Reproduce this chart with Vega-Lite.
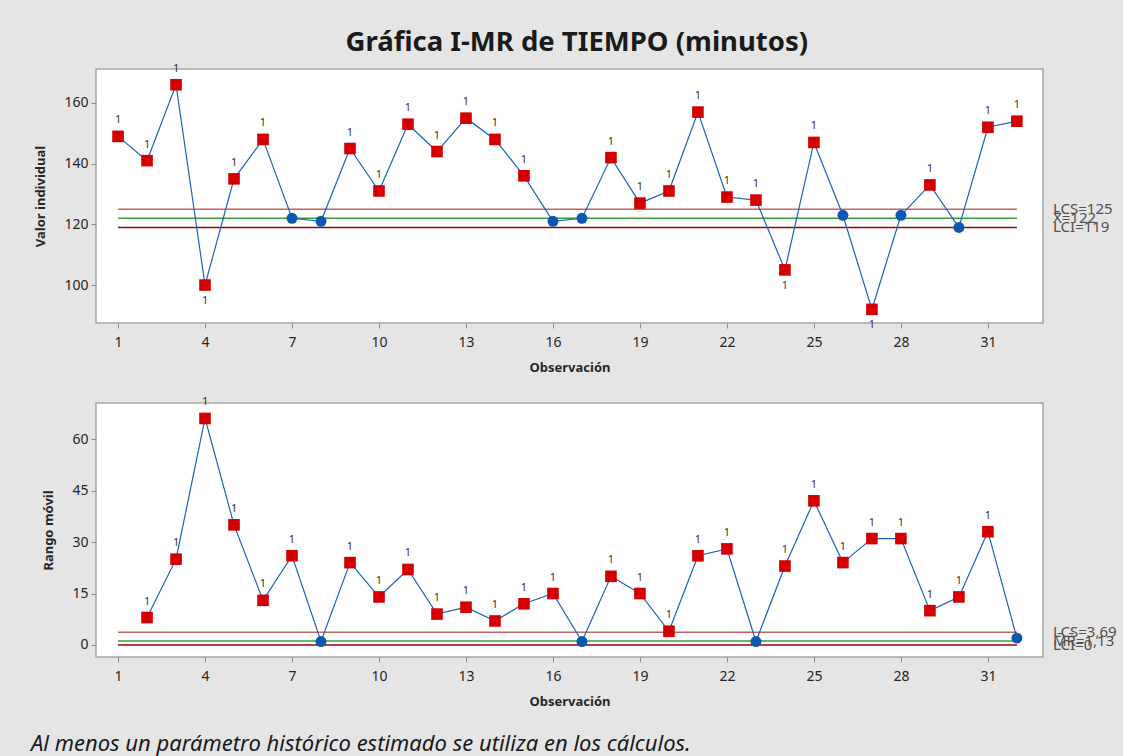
{
  "$schema": "https://vega.github.io/schema/vega-lite/v6.json",
  "background": "#e5e5e5",
  "padding": {"left": 30, "top": 28, "right": 5, "bottom": 5},
  "title": {"text": "Gráfica I-MR de TIEMPO (minutos)", "font": "Noto Sans", "fontSize": 27.5, "fontWeight": "bold", "color": "#1a1a1a", "anchor": "middle", "offset": 6, "dx": 3},
  "datasets": {
    "datos": [
      {"obs": 1, "valor": 149, "mr": null},
      {"obs": 2, "valor": 141, "mr": 8},
      {"obs": 3, "valor": 166, "mr": 25},
      {"obs": 4, "valor": 100, "mr": 66},
      {"obs": 5, "valor": 135, "mr": 35},
      {"obs": 6, "valor": 148, "mr": 13},
      {"obs": 7, "valor": 122, "mr": 26},
      {"obs": 8, "valor": 121, "mr": 1},
      {"obs": 9, "valor": 145, "mr": 24},
      {"obs": 10, "valor": 131, "mr": 14},
      {"obs": 11, "valor": 153, "mr": 22},
      {"obs": 12, "valor": 144, "mr": 9},
      {"obs": 13, "valor": 155, "mr": 11},
      {"obs": 14, "valor": 148, "mr": 7},
      {"obs": 15, "valor": 136, "mr": 12},
      {"obs": 16, "valor": 121, "mr": 15},
      {"obs": 17, "valor": 122, "mr": 1},
      {"obs": 18, "valor": 142, "mr": 20},
      {"obs": 19, "valor": 127, "mr": 15},
      {"obs": 20, "valor": 131, "mr": 4},
      {"obs": 21, "valor": 157, "mr": 26},
      {"obs": 22, "valor": 129, "mr": 28},
      {"obs": 23, "valor": 128, "mr": 1},
      {"obs": 24, "valor": 105, "mr": 23},
      {"obs": 25, "valor": 147, "mr": 42},
      {"obs": 26, "valor": 123, "mr": 24},
      {"obs": 27, "valor": 92, "mr": 31},
      {"obs": 28, "valor": 123, "mr": 31},
      {"obs": 29, "valor": 133, "mr": 10},
      {"obs": 30, "valor": 119, "mr": 14},
      {"obs": 31, "valor": 152, "mr": 33},
      {"obs": 32, "valor": 154, "mr": 2}
    ],
    "lim_i": [
      {"nombre": "LCS", "v": 125, "etiqueta": "LCS=125"},
      {"nombre": "C", "v": 122, "etiqueta": "X̄=122"},
      {"nombre": "LCI", "v": 119, "etiqueta": "LCI=119"}
    ],
    "lim_mr": [
      {"nombre": "LCS", "v": 3.69, "etiqueta": "LCS=3,69"},
      {"nombre": "C", "v": 1.13, "etiqueta": "M̄R̄=1,13"},
      {"nombre": "LCI", "v": 0, "etiqueta": "LCI=0"}
    ]
  },
  "config": {
    "view": {"fill": "white", "stroke": "#a6a6a6", "strokeWidth": 1.5},
    "font": "Noto Sans",
    "axis": {"grid": false, "domain": false, "tickColor": "#8c8c8c", "tickSize": 5, "labelFont": "Noto Sans", "labelFontSize": 14, "labelColor": "#262626", "titleFont": "Noto Sans", "titleFontSize": 13, "titleFontWeight": "bold", "titleColor": "#262626"},
    "axisX": {"titlePadding": 12, "labelPadding": 7},
    "axisY": {"titlePadding": 16, "labelPadding": 3}
  },
  "spacing": 20,
  "vconcat": [
    {
      "width": 947,
      "height": 254,
      "layer": [
        {
          "data": {"name": "lim_i"},
          "mark": {"type": "rule", "strokeWidth": 1.5},
          "encoding": {
            "x": {"datum": 1, "type": "quantitative", "scale": {"domain": [0.24, 32.9], "nice": false, "zero": false}, "axis": {"values": [1,4,7,10,13,16,19,22,25,28,31], "title": "Observación"}},
            "x2": {"datum": 32},
            "y": {"field": "v", "type": "quantitative", "scale": {"domain": [87.5, 171.2], "nice": false, "zero": false}, "axis": {"values": [100,120,140,160], "title": "Valor individual"}},
            "stroke": {"field": "nombre", "type": "nominal", "scale": {"domain": ["LCS", "C", "LCI"], "range": ["#c06464", "#3c9c3c", "#a00000"]}, "legend": null}
          }
        },
        {
          "data": {"name": "lim_i"},
          "mark": {"type": "text", "align": "left", "baseline": "middle", "dx": 10, "fontSize": 15, "color": "#505050"},
          "encoding": {
            "x": {"datum": 32.9, "type": "quantitative"},
            "y": {"field": "v", "type": "quantitative"},
            "text": {"field": "etiqueta"}
          }
        },
        {
          "data": {"name": "datos"},
          "mark": {"type": "line", "color": "#1a62c0", "strokeWidth": 1.2},
          "encoding": {
            "x": {"field": "obs", "type": "quantitative", "title": "Observación"},
            "y": {"field": "valor", "type": "quantitative", "title": "Valor individual"}
          }
        },
        {
          "data": {"name": "datos"},
          "transform": [{"filter": "datum.valor > 125 || datum.valor < 119"}],
          "mark": {"type": "point", "shape": "square", "filled": true, "size": 135, "color": "#d40000", "opacity": 1},
          "encoding": {
            "x": {"field": "obs", "type": "quantitative", "title": "Observación"},
            "y": {"field": "valor", "type": "quantitative", "title": "Valor individual"}
          }
        },
        {
          "data": {"name": "datos"},
          "transform": [{"filter": "datum.valor <= 125 && datum.valor >= 119"}],
          "mark": {"type": "point", "shape": "circle", "filled": true, "size": 120, "color": "#0a58b0", "opacity": 1},
          "encoding": {
            "x": {"field": "obs", "type": "quantitative", "title": "Observación"},
            "y": {"field": "valor", "type": "quantitative", "title": "Valor individual"}
          }
        },
        {
          "data": {"name": "datos"},
          "transform": [{"filter": "datum.valor > 125"}],
          "mark": {"type": "text", "dy": -16, "baseline": "middle", "fontSize": 11, "color": "#333333"},
          "encoding": {
            "x": {"field": "obs", "type": "quantitative"},
            "y": {"field": "valor", "type": "quantitative"},
            "text": {"value": "1"}
          }
        },
        {
          "data": {"name": "datos"},
          "transform": [{"filter": "datum.valor < 119"}],
          "mark": {"type": "text", "dy": 16, "baseline": "middle", "fontSize": 11, "color": "#333333"},
          "encoding": {
            "x": {"field": "obs", "type": "quantitative"},
            "y": {"field": "valor", "type": "quantitative"},
            "text": {"value": "1"}
          }
        }
      ]
    },
    {
      "width": 947,
      "height": 254,
      "title": {"text": "Al menos un parámetro histórico estimado se utiliza en los cálculos.", "orient": "bottom", "anchor": "start", "frame": "group", "dx": -65, "offset": 26, "font": "Noto Sans", "fontStyle": "italic", "fontSize": 22, "fontWeight": "normal", "color": "#1a1a1a"},
      "layer": [
        {
          "data": {"name": "lim_mr"},
          "mark": {"type": "rule", "strokeWidth": 1.5},
          "encoding": {
            "x": {"datum": 1, "type": "quantitative", "scale": {"domain": [0.24, 32.9], "nice": false, "zero": false}, "axis": {"values": [1,4,7,10,13,16,19,22,25,28,31], "title": "Observación"}},
            "x2": {"datum": 32},
            "y": {"field": "v", "type": "quantitative", "scale": {"domain": [-3.5, 70.5], "nice": false, "zero": false}, "axis": {"values": [0,15,30,45,60], "title": "Rango móvil"}},
            "stroke": {"field": "nombre", "type": "nominal", "scale": {"domain": ["LCS", "C", "LCI"], "range": ["#c06464", "#5cb85c", "#a00000"]}, "legend": null}
          }
        },
        {
          "data": {"name": "lim_mr"},
          "mark": {"type": "text", "align": "left", "baseline": "middle", "dx": 10, "fontSize": 15, "color": "#505050"},
          "encoding": {
            "x": {"datum": 32.9, "type": "quantitative"},
            "y": {"field": "v", "type": "quantitative"},
            "text": {"field": "etiqueta"}
          }
        },
        {
          "data": {"name": "datos"},
          "transform": [{"filter": "isValid(datum.mr)"}],
          "mark": {"type": "line", "color": "#1a62c0", "strokeWidth": 1.2},
          "encoding": {
            "x": {"field": "obs", "type": "quantitative", "title": "Observación"},
            "y": {"field": "mr", "type": "quantitative", "title": "Rango móvil"}
          }
        },
        {
          "data": {"name": "datos"},
          "transform": [{"filter": "isValid(datum.mr) && datum.mr > 3.69"}],
          "mark": {"type": "point", "shape": "square", "filled": true, "size": 135, "color": "#d40000", "opacity": 1},
          "encoding": {
            "x": {"field": "obs", "type": "quantitative", "title": "Observación"},
            "y": {"field": "mr", "type": "quantitative", "title": "Rango móvil"}
          }
        },
        {
          "data": {"name": "datos"},
          "transform": [{"filter": "isValid(datum.mr) && datum.mr <= 3.69"}],
          "mark": {"type": "point", "shape": "circle", "filled": true, "size": 120, "color": "#0a58b0", "opacity": 1},
          "encoding": {
            "x": {"field": "obs", "type": "quantitative", "title": "Observación"},
            "y": {"field": "mr", "type": "quantitative", "title": "Rango móvil"}
          }
        },
        {
          "data": {"name": "datos"},
          "transform": [{"filter": "isValid(datum.mr) && datum.mr > 3.69"}],
          "mark": {"type": "text", "dy": -16, "baseline": "middle", "fontSize": 11, "color": "#333333"},
          "encoding": {
            "x": {"field": "obs", "type": "quantitative"},
            "y": {"field": "mr", "type": "quantitative"},
            "text": {"value": "1"}
          }
        }
      ]
    }
  ]
}
